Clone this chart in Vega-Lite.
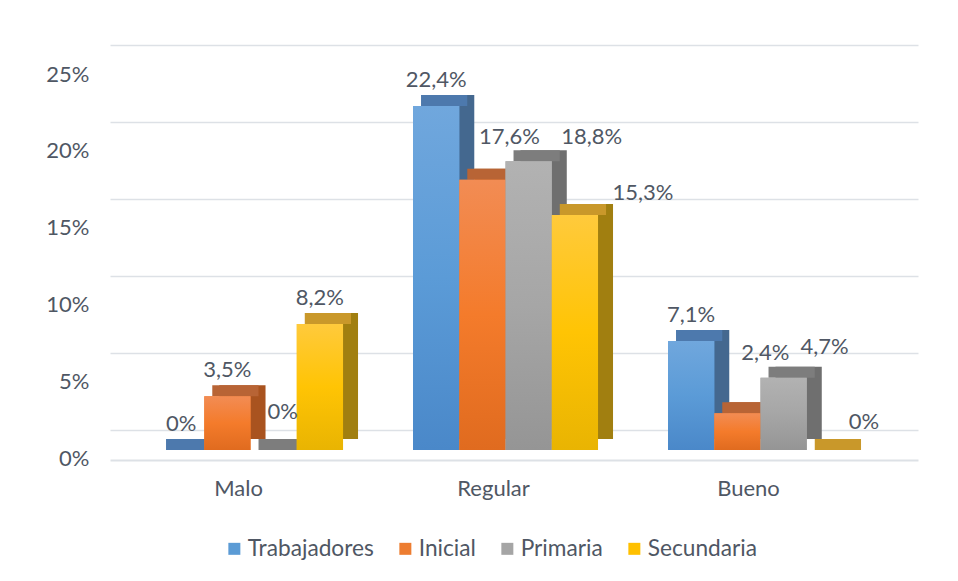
{
  "$schema": "https://vega.github.io/schema/vega-lite/v6.json",
  "width": 808,
  "height": 415,
  "autosize": {"type": "none"},
  "padding": {"left": 110, "top": 45, "right": 40, "bottom": 121},
  "config": {
    "locale": {"number": {"decimal": ",", "thousands": ".", "grouping": [3], "currency": ["", " €"]}},
    "view": {"stroke": null},
    "font": "Lato",
    "axis": {"labelFont": "Lato"},
    "legend": {"labelFont": "Lato"}
  },
  "data": {
    "values": [
      {"cat": "Malo", "serie": "Trabajadores", "value": 0},
      {"cat": "Malo", "serie": "Inicial", "value": 0.035},
      {"cat": "Malo", "serie": "Primaria", "value": 0},
      {"cat": "Malo", "serie": "Secundaria", "value": 0.082},
      {"cat": "Regular", "serie": "Trabajadores", "value": 0.224},
      {"cat": "Regular", "serie": "Inicial", "value": 0.176},
      {"cat": "Regular", "serie": "Primaria", "value": 0.188},
      {"cat": "Regular", "serie": "Secundaria", "value": 0.153},
      {"cat": "Bueno", "serie": "Trabajadores", "value": 0.071},
      {"cat": "Bueno", "serie": "Inicial", "value": 0.024},
      {"cat": "Bueno", "serie": "Primaria", "value": 0.047},
      {"cat": "Bueno", "serie": "Secundaria", "value": 0}
    ]
  },
  "encoding": {
    "x": {
      "field": "cat", "type": "nominal", "sort": ["Malo", "Regular", "Bueno"], "title": null,
      "scale": {"paddingInner": 0.2745, "paddingOuter": 0.2216, "align": 0.425},
      "axis": {"labelAngle": 0, "ticks": false, "domainColor": "#dde1e6", "domainWidth": 2, "labelFontSize": 22, "labelColor": "#4f5764", "labelOffset": -12, "labelPadding": 18}
    }
  },
  "layer": [
    {
      "mark": {"type": "point", "opacity": 0},
      "encoding": {
        "y": {
          "field": "value", "type": "quantitative",
          "scale": {"domain": [-0.019481, 0.25], "nice": false, "zero": false},
          "axis": {"orient": "left", "values": [0, 0.05, 0.1, 0.15, 0.2, 0.25], "format": ".0%", "grid": true, "gridColor": "#dde1e6", "gridWidth": 1.5, "domain": false, "ticks": false, "labelFontSize": 22, "labelColor": "#4f5764", "labelPadding": 21, "labelOffset": 29, "title": null}
        }
      }
    },
    {
      "encoding": {
        "y": {"field": "value", "type": "quantitative", "scale": {"domain": [-0.00651, 0.26367], "nice": false, "zero": false}, "axis": null}
      },
      "layer": [
        {
          "mark": {"type": "bar", "yOffset": -11, "y2Offset": -11},
          "encoding": {
            "xOffset": {"field": "serie", "type": "nominal", "sort": ["Trabajadores", "Inicial", "Primaria", "Secundaria"], "scale": {"range": [15, 200], "paddingInner": 0, "paddingOuter": 0}},
            "color": {"field": "serie", "type": "nominal", "legend": null,
              "scale": {"domain": ["Trabajadores", "Inicial", "Primaria", "Secundaria"], "range": ["#44688f", "#a9531f", "#6f6f6f", "#a17f10"]}}
          }
        },
        {
          "mark": {"type": "bar", "yOffset": -11},
          "encoding": {
            "xOffset": {"field": "serie", "type": "nominal", "sort": ["Trabajadores", "Inicial", "Primaria", "Secundaria"], "scale": {"range": [8, 193], "paddingInner": 0, "paddingOuter": 0}},
            "y2": {"field": "value"},
            "color": {"field": "serie", "type": "nominal", "legend": null,
              "scale": {"domain": ["Trabajadores", "Inicial", "Primaria", "Secundaria"], "range": ["#4d79ad", "#b86435", "#7d7d7d", "#c9982a"]}}
          }
        },
        {
          "encoding": {
            "xOffset": {"field": "serie", "type": "nominal", "sort": ["Trabajadores", "Inicial", "Primaria", "Secundaria"], "scale": {"paddingInner": 0, "paddingOuter": 0}}
          },
          "layer": [
            {
              "mark": {"type": "bar"},
              "encoding": {
                "color": {"field": "serie", "type": "nominal",
                  "scale": {"domain": ["Trabajadores", "Inicial", "Primaria", "Secundaria"], "range": ["#5b9bd5", "#ed7d31", "#a5a5a5", "#ffc000"]},
                  "legend": {"orient": "none", "direction": "horizontal", "legendX": 113, "legendY": 492, "title": null, "symbolType": "square", "symbolSize": 144, "symbolStrokeWidth": 0, "labelFontSize": 22.7, "labelColor": "#4f5764", "columnPadding": 20, "labelOffset": 2, "padding": 0}}
              }
            },
            {
              "transform": [{"filter": "datum.serie == 'Trabajadores'"}],
              "mark": {"type": "bar", "color": {"gradient": "linear", "x1": 0, "y1": 0, "x2": 0, "y2": 1, "stops": [{"offset": 0, "color": "#70a7dd"}, {"offset": 0.5, "color": "#5b9bd7"}, {"offset": 1, "color": "#4a88c9"}]}}
            },
            {
              "transform": [{"filter": "datum.serie == 'Inicial'"}],
              "mark": {"type": "bar", "color": {"gradient": "linear", "x1": 0, "y1": 0, "x2": 0, "y2": 1, "stops": [{"offset": 0, "color": "#f28c54"}, {"offset": 0.5, "color": "#f47b2b"}, {"offset": 1, "color": "#e06b1f"}]}}
            },
            {
              "transform": [{"filter": "datum.serie == 'Primaria'"}],
              "mark": {"type": "bar", "color": {"gradient": "linear", "x1": 0, "y1": 0, "x2": 0, "y2": 1, "stops": [{"offset": 0, "color": "#b2b2b2"}, {"offset": 0.5, "color": "#a6a6a6"}, {"offset": 1, "color": "#959595"}]}}
            },
            {
              "transform": [{"filter": "datum.serie == 'Secundaria'"}],
              "mark": {"type": "bar", "color": {"gradient": "linear", "x1": 0, "y1": 0, "x2": 0, "y2": 1, "stops": [{"offset": 0, "color": "#ffca3c"}, {"offset": 0.5, "color": "#ffc404"}, {"offset": 1, "color": "#e9b402"}]}}
            }
          ]
        },
        {
          "encoding": {
            "xOffset": {"field": "serie", "type": "nominal", "sort": ["Trabajadores", "Inicial", "Primaria", "Secundaria"], "scale": {"type": "band", "paddingInner": 0, "paddingOuter": 0}},
            "text": {"field": "value", "type": "quantitative", "format": ".1~%"}
          },
          "layer": [
            {
              "transform": [{"filter": "indexof(['Malo|Primaria','Bueno|Secundaria','Regular|Inicial','Regular|Primaria','Regular|Secundaria','Bueno|Inicial','Bueno|Primaria'], datum.cat + '|' + datum.serie) < 0"}],
              "mark": {"type": "text", "dy": -26, "fontSize": 22, "color": "#4f5764", "baseline": "middle"}
            },
            {
              "transform": [{"filter": "datum.cat == 'Malo' && datum.serie == 'Primaria'"}],
              "mark": {"type": "text", "dx": 9, "dy": -38, "fontSize": 22, "color": "#4f5764", "baseline": "middle"}
            },
            {
              "transform": [{"filter": "datum.cat == 'Bueno' && datum.serie == 'Secundaria'"}],
              "mark": {"type": "text", "dx": 34, "dy": -28, "fontSize": 22, "color": "#4f5764", "baseline": "middle"}
            },
            {
              "transform": [{"filter": "datum.cat == 'Regular' && datum.serie == 'Inicial'"}],
              "mark": {"type": "text", "dx": 27, "dy": -43, "fontSize": 22, "color": "#4f5764", "baseline": "middle"}
            },
            {
              "transform": [{"filter": "datum.cat == 'Regular' && datum.serie == 'Primaria'"}],
              "mark": {"type": "text", "dx": 63, "dy": -24, "fontSize": 22, "color": "#4f5764", "baseline": "middle"}
            },
            {
              "transform": [{"filter": "datum.cat == 'Regular' && datum.serie == 'Secundaria'"}],
              "mark": {"type": "text", "dx": 68, "dy": -22, "fontSize": 22, "color": "#4f5764", "baseline": "middle"}
            },
            {
              "transform": [{"filter": "datum.cat == 'Bueno' && datum.serie == 'Inicial'"}],
              "mark": {"type": "text", "dx": 28, "dy": -60, "fontSize": 22, "color": "#4f5764", "baseline": "middle"}
            },
            {
              "transform": [{"filter": "datum.cat == 'Bueno' && datum.serie == 'Primaria'"}],
              "mark": {"type": "text", "dx": 41, "dy": -31, "fontSize": 22, "color": "#4f5764", "baseline": "middle"}
            }
          ]
        }
      ],
      "resolve": {"scale": {"color": "independent", "xOffset": "independent"}, "legend": {"color": "independent"}}
    }
  ],
  "resolve": {"scale": {"y": "independent"}}
}
